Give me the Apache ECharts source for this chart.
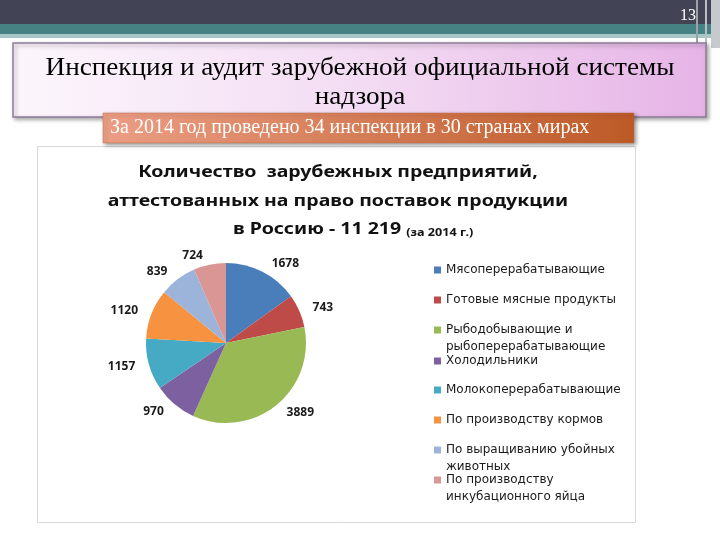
<!DOCTYPE html>
<html>
<head>
<meta charset="utf-8">
<script src="https://cdn.jsdelivr.net/npm/echarts@6/dist/echarts.min.js"></script>
<style>
html,body{margin:0;padding:0;background:#fff;}
#c{width:720px;height:540px;}
</style>
</head>
<body>
<div id="c"></div>
<script>
// ---- data ----
const categories = [
  'Мясоперерабатывающие',
  'Готовые мясные продукты',
  'Рыбодобывающие и\nрыбоперерабатывающие',
  'Холодильники',
  'Молокоперерабатывающие',
  'По производству кормов',
  'По выращиванию убойных\nживотных',
  'По производству\nинкубационного яйца'
];
const values = [1678, 743, 3889, 970, 1157, 1120, 839, 724];
const colors = ['#4a7ebb','#be4b48','#98b954','#7d60a0','#46aac5','#f69240','#9cb3da','#d99694'];
const slideTitle = ['Инспекция и аудит зарубежной официальной системы', 'надзора'];
const bannerText = 'За 2014 год проведено 34 инспекции в 30 странах мирах';
const chartTitleLines = ['Количество  зарубежных предприятий,', 'аттестованных на право поставок продукции'];
const chartTitleLast = 'в Россию - 11 219 {s|(за 2014 г.)}';
const pageNumber = '13';

// ---- layout ----
const legendRowY = [270, 300, 330, 361, 390, 420, 450, 480];
const LH = 16.5;

const chart = echarts.init(document.getElementById('c'), null, {renderer: 'canvas'});

const legends = categories.map((name, i) => {
  const twoLine = name.indexOf('\n') >= 0;
  return {
    data: [name],
    left: 434,
    top: legendRowY[i] - (twoLine ? LH * 1.5 : LH / 2),
    padding: 0,
    icon: 'rect',
    itemWidth: 7,
    itemHeight: 7,
    selectedMode: false,
    formatter: (n) => (n.indexOf('\n') >= 0 ? '\n' + n : n),
    textStyle: {
      fontFamily: 'DejaVu Sans',
      fontSize: 12,
      color: '#1a1a1a',
      lineHeight: LH
    }
  };
});

const titleFont = {fill: '#111', fontFamily: 'Noto Sans', fontWeight: 'bold', fontSize: 15.5};

const option = {
  animation: false,
  color: colors,
  legend: legends,
  graphic: [
    {type: 'rect', z: -10, shape: {x: 0, y: 0, width: 720, height: 24}, style: {fill: '#424456'}},
    {type: 'rect', z: -10, shape: {x: 0, y: 24, width: 720, height: 10}, style: {fill: '#468283'}},
    {type: 'rect', z: -10, shape: {x: 0, y: 34, width: 720, height: 4}, style: {fill: '#a6c6c7'}},
    {type: 'rect', z: -9, shape: {x: 460, y: 38, width: 208, height: 4}, style: {fill: '#ffffff'}},
    {type: 'rect', z: -9, shape: {x: 696, y: 0, width: 2, height: 46}, style: {fill: '#9aa3a8'}},
    {type: 'rect', z: -9, shape: {x: 705, y: 0, width: 2, height: 46}, style: {fill: '#b9c0c4'}},
    {type: 'rect', z: -9, shape: {x: 711, y: 0, width: 9, height: 48}, style: {fill: '#c6cacc'}},
    {type: 'text', z: 5, x: 688, y: 16, style: {text: pageNumber, x: 0, y: 0, textAlign: 'center', textVerticalAlign: 'middle', fill: '#ffffff', font: '16px "Liberation Serif"'}},
    // title box
    {type: 'rect', z: 1, shape: {x: 13, y: 43, width: 693, height: 74},
      style: {
        fill: new echarts.graphic.LinearGradient(0, 0, 1, 0, [{offset: 0, color: '#fcf6fc'}, {offset: 0.5, color: '#f3dcf3'}, {offset: 1, color: '#e6b4e6'}]),
        stroke: '#8e7c98', lineWidth: 1.5,
        shadowBlur: 4, shadowOffsetX: 2, shadowOffsetY: 2, shadowColor: 'rgba(0,0,0,0.35)'
      }},
    {type: 'text', z: 2, x: 360, y: 68, scaleX: 1.087, style: {text: slideTitle[0], x: 0, y: 0, textAlign: 'center', textVerticalAlign: 'middle', fill: '#000', font: '25px "Liberation Serif"'}},
    {type: 'text', z: 2, x: 360, y: 97, scaleX: 1.087, style: {text: slideTitle[1], x: 0, y: 0, textAlign: 'center', textVerticalAlign: 'middle', fill: '#000', font: '25px "Liberation Serif"'}},
    // banner
    {type: 'rect', z: 3, shape: {x: 103, y: 113, width: 531, height: 30},
      style: {
        fill: new echarts.graphic.LinearGradient(0, 0, 1, 0, [{offset: 0, color: '#eb9d84'}, {offset: 1, color: '#bd5a27'}]),
        stroke: '#c0704a', lineWidth: 0.5,
        shadowBlur: 4, shadowOffsetX: 2, shadowOffsetY: 2, shadowColor: 'rgba(0,0,0,0.4)'
      }},
    {type: 'text', z: 4, x: 110, y: 128, style: {text: bannerText, x: 0, y: 0, textAlign: 'left', textVerticalAlign: 'middle', fill: '#ffffff', font: '20px "Liberation Serif"'}},
    // chart box
    {type: 'rect', z: -5, shape: {x: 37.5, y: 146.5, width: 598, height: 376}, style: {fill: '#ffffff', stroke: '#d9d9d9', lineWidth: 1}},
    // chart title
    {type: 'text', z: 2, x: 338, y: 173, scaleX: 1.26,
      style: Object.assign({text: chartTitleLines[0], x: 0, y: 0, textAlign: 'center', textVerticalAlign: 'middle'}, titleFont)},
    {type: 'text', z: 2, x: 338, y: 201.5, scaleX: 1.26,
      style: Object.assign({text: chartTitleLines[1], x: 0, y: 0, textAlign: 'center', textVerticalAlign: 'middle'}, titleFont)},
    {type: 'text', z: 2, x: 233, y: 230, scaleX: 1.26,
      style: Object.assign({
        text: chartTitleLast, x: 0, y: 0, textAlign: 'left', textVerticalAlign: 'middle',
        rich: {
          s: {fontFamily: 'Noto Sans', fontWeight: 'bold', fontSize: 10, fill: '#111', verticalAlign: 'middle', padding: [6, 0, 0, 0]}
        }
      }, titleFont)}
  ],
  series: [{
    type: 'pie',
    center: [226, 343],
    radius: 80,
    startAngle: 90,
    clockwise: true,
    avoidLabelOverlap: false,
    label: {
      show: true,
      position: 'outside',
      formatter: '{c}',
      fontFamily: 'Noto Sans',
      fontWeight: 'bold',
      fontSize: 12,
      color: '#1a1a1a'
    },
    labelLine: {show: false, length: 9, length2: 0},
    itemStyle: {borderWidth: 0},
    emphasis: {disabled: true},
    data: categories.map((n, i) => ({name: n, value: values[i]}))
  }]
};
chart.setOption(option);
</script>
</body>
</html>
